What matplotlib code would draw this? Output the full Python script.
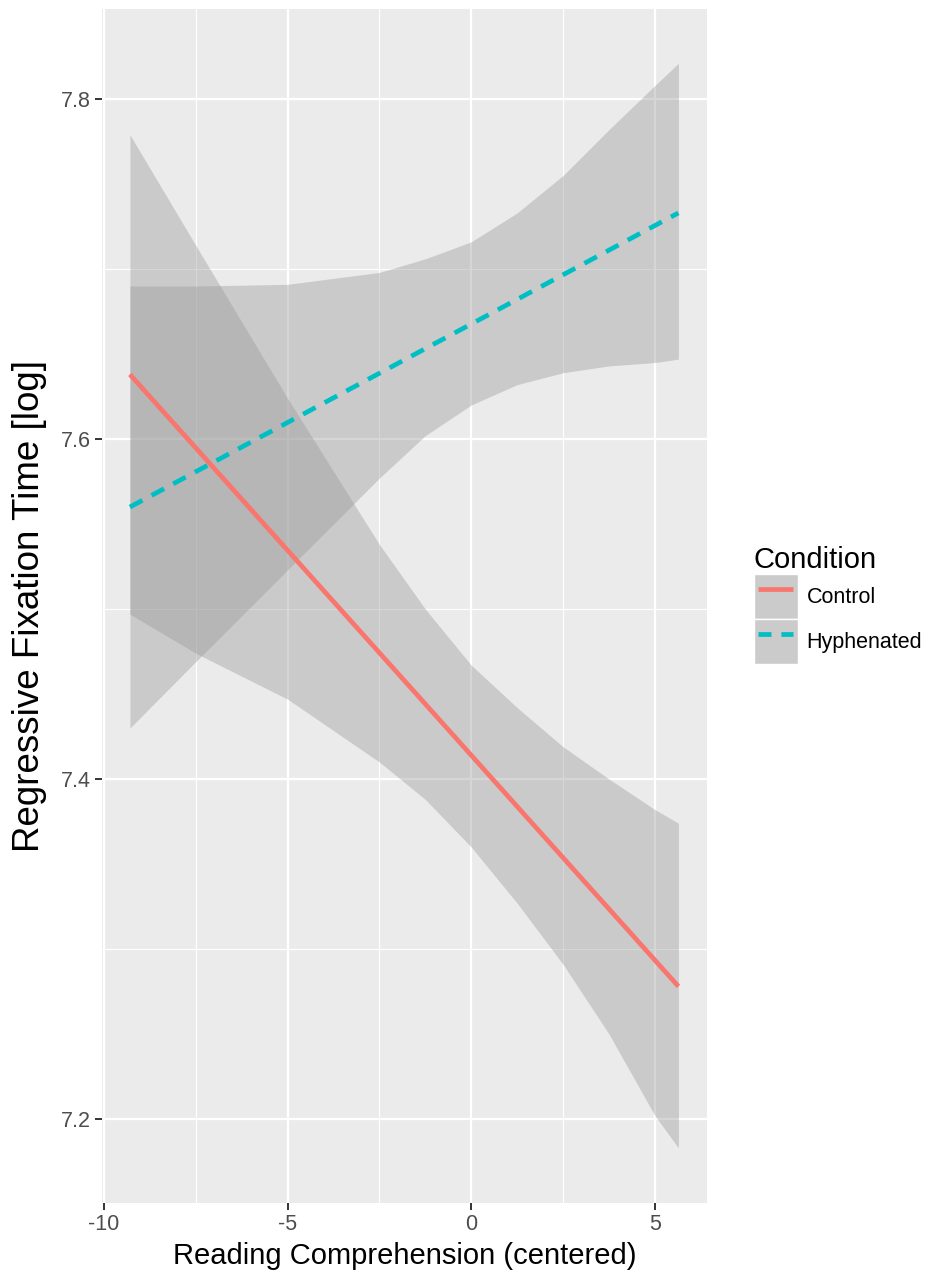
import numpy as np
import matplotlib
matplotlib.use('Agg')
import matplotlib.pyplot as plt
from matplotlib.lines import Line2D
from matplotlib.patches import Patch
from matplotlib.legend_handler import HandlerTuple, HandlerLine2D

plt.rcParams['font.family'] = ['Liberation Sans', 'DejaVu Sans']
plt.rcParams['axes.unicode_minus'] = False

# ==== data ====
x_line = [-9.29, 5.64]
control_fit = [7.638, 7.278]
hyph_fit = [7.560, 7.733]

x_band = [-9.29, -7.5, -5.0, -2.5, -1.25, 0.0, 1.25, 2.5, 3.75, 5.0, 5.64]
control_upper = [7.779, 7.714, 7.624, 7.538, 7.500, 7.467, 7.442, 7.419, 7.400, 7.382, 7.374]
control_lower = [7.497, 7.474, 7.447, 7.410, 7.388, 7.360, 7.327, 7.291, 7.250, 7.202, 7.183]
hyph_upper = [7.690, 7.690, 7.691, 7.698, 7.706, 7.716, 7.733, 7.755, 7.782, 7.808, 7.821]
hyph_lower = [7.430, 7.469, 7.523, 7.577, 7.602, 7.620, 7.632, 7.639, 7.643, 7.645, 7.647]

conditions = ['Control', 'Hyphenated']
colors = ['#F8766D', '#00BFC4']


# line in legend key drawn a bit shorter than the grey key box
class InsetLine(HandlerLine2D):
    def create_artists(self, legend, orig_handle, xdescent, ydescent,
                       width, height, fontsize, trans):
        inset = 0.1 * width
        return super().create_artists(legend, orig_handle, xdescent - inset, ydescent,
                                      width - 2 * inset, height, fontsize, trans)


# ==== figure ====
fig = plt.figure(figsize=(9.35, 12.8), dpi=100)
ax = fig.add_axes([0.1091, 0.0602, 0.6471, 0.9328])
ax.set_facecolor('#EBEBEB')
for s in ax.spines.values():
    s.set_visible(False)

ax.set_xlim(-10.05, 6.42)
ax.set_ylim(7.1506, 7.853)
ax.set_xticks([-10, -5, 0, 5])
ax.set_xticks([-7.5, -2.5, 2.5], minor=True)
ax.set_yticks([7.2, 7.4, 7.6, 7.8])
ax.set_yticks([7.3, 7.5, 7.7], minor=True)
ax.set_yticklabels(['7.2', '7.4', '7.6', '7.8'])
ax.grid(which='major', color='white', linewidth=1.6)
ax.grid(which='minor', color='white', linewidth=0.8)
ax.set_axisbelow(True)
ax.tick_params(which='major', length=5, width=1.4, color='#333333',
               labelcolor='#4D4D4D', labelsize=15.5, pad=3)
ax.tick_params(which='minor', length=0)

ax.fill_between(x_band, control_lower, control_upper, color='#999999', alpha=0.4, linewidth=0)
ax.fill_between(x_band, hyph_lower, hyph_upper, color='#999999', alpha=0.4, linewidth=0)
ax.plot(x_line, control_fit, color=colors[0], linewidth=3.4, solid_capstyle='butt')
ax.plot(x_line, hyph_fit, color=colors[1], linewidth=3.4, dashes=(3, 2.2))

ax.set_xlabel('Reading Comprehension (centered)', fontsize=21, labelpad=5)
ax.set_ylabel('Regressive Fixation Time [log]', fontsize=26.5, labelpad=10)

# legend
h1 = (Patch(facecolor='#CBCBCB', edgecolor='white', linewidth=1),
      Line2D([], [], color=colors[0], linewidth=3.4, solid_capstyle='butt'))
h2 = (Patch(facecolor='#CBCBCB', edgecolor='white', linewidth=1),
      Line2D([], [], color=colors[1], linewidth=3.4, dashes=(2.75, 2.1)))
leg = fig.legend([h1, h2], conditions, title='Condition',
                 handler_map={tuple: HandlerTuple(ndivide=1, pad=0),
                              Line2D: InsetLine()},
                 loc='center left', bbox_to_anchor=(0.79, 0.527),
                 frameon=False, fontsize=15.5, title_fontsize=21,
                 handlelength=2.05, handleheight=2.84, labelspacing=0.0,
                 handletextpad=0.4, borderpad=0.2)
leg._legend_box.align = 'left'

fig.savefig('out.png', dpi=100)
